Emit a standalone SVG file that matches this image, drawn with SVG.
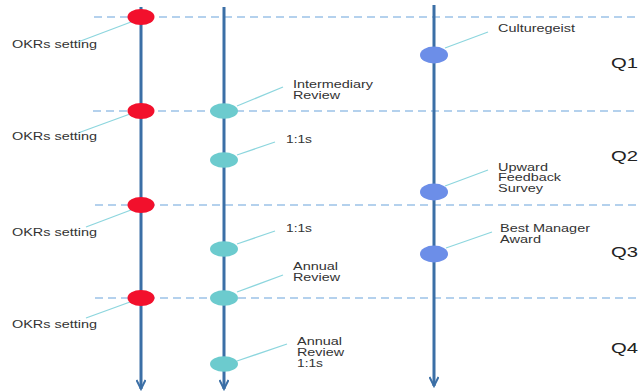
<svg xmlns="http://www.w3.org/2000/svg" width="639" height="392" viewBox="0 0 639 392">
<defs>
<style>
.axis{stroke:#3b6fa6;stroke-width:3;fill:none}
.dash{stroke:#9cc2e8;stroke-width:1.3;stroke-dasharray:8 5;fill:none}
.lead{stroke:#8dd6de;stroke-width:1.3;fill:none}
.red{fill:#f2102c}
.teal{fill:#6ccbce}
.blue{fill:#6c8ee8}
text{font-family:"Liberation Sans",Arial,sans-serif;font-size:11px;fill:#333}
.sm{font-size:10.5px}
.q{font-size:15px;fill:#222}
</style>
<marker id="arr" viewBox="0 0 12 10" refX="10" refY="5" markerWidth="12" markerHeight="10" markerUnits="userSpaceOnUse" orient="auto">
<path d="M1,0.5 L10,5 L1,9.5" fill="none" stroke="#3b6fa6" stroke-width="2"/>
</marker>
</defs>
<rect width="639" height="392" fill="#fff"/>
<g id="grid">
<line class="dash" x1="94" y1="17" x2="639" y2="17"/>
<line class="dash" x1="93" y1="111" x2="639" y2="111"/>
<line class="dash" x1="95" y1="205" x2="639" y2="205"/>
<line class="dash" x1="95" y1="298" x2="639" y2="298"/>
</g>
<g id="connectors">
<line class="axis" x1="141" y1="7" x2="141" y2="389" marker-end="url(#arr)"/>
<line class="axis" x1="224" y1="7" x2="224" y2="389" marker-end="url(#arr)"/>
<line class="axis" x1="434" y1="5" x2="434" y2="386" marker-end="url(#arr)"/>
<line class="lead" x1="78" y1="42" x2="131" y2="22"/>
<line class="lead" x1="78" y1="133" x2="130" y2="114"/>
<line class="lead" x1="86" y1="227" x2="131" y2="210"/>
<line class="lead" x1="86" y1="318" x2="130" y2="302"/>
<line class="lead" x1="237" y1="106" x2="283" y2="87"/>
<line class="lead" x1="237" y1="155" x2="275" y2="142"/>
<line class="lead" x1="237" y1="244" x2="275" y2="231"/>
<line class="lead" x1="237" y1="292" x2="283" y2="275"/>
<line class="lead" x1="237" y1="361" x2="287" y2="344"/>
<line class="lead" x1="445" y1="48" x2="488" y2="32"/>
<line class="lead" x1="445" y1="186" x2="488" y2="170"/>
<line class="lead" x1="446" y1="248" x2="492" y2="232"/>
</g>
<g id="n-okr1"><ellipse class="red" cx="141" cy="17" rx="13.5" ry="8"/><text x="12" y="47.5" textLength="85" lengthAdjust="spacingAndGlyphs">OKRs setting</text></g>
<g id="n-okr2"><ellipse class="red" cx="141" cy="111" rx="13.5" ry="8"/><text x="12" y="140" textLength="85" lengthAdjust="spacingAndGlyphs">OKRs setting</text></g>
<g id="n-okr3"><ellipse class="red" cx="141" cy="205" rx="13.5" ry="8"/><text x="12" y="236" textLength="85" lengthAdjust="spacingAndGlyphs">OKRs setting</text></g>
<g id="n-okr4"><ellipse class="red" cx="141" cy="298" rx="13.5" ry="8"/><text x="12" y="328" textLength="85" lengthAdjust="spacingAndGlyphs">OKRs setting</text></g>
<g id="n-intermediary"><ellipse class="teal" cx="224" cy="111" rx="14" ry="7.8"/><text x="293" y="88" textLength="80" lengthAdjust="spacingAndGlyphs">Intermediary</text><text x="293" y="99" textLength="47" lengthAdjust="spacingAndGlyphs">Review</text></g>
<g id="n-1on1a"><ellipse class="teal" cx="224" cy="160" rx="14" ry="7.8"/><text x="286" y="143" textLength="26" lengthAdjust="spacingAndGlyphs">1:1s</text></g>
<g id="n-1on1b"><ellipse class="teal" cx="224" cy="249" rx="14" ry="7.8"/><text x="286" y="232" textLength="26" lengthAdjust="spacingAndGlyphs">1:1s</text></g>
<g id="n-annual"><ellipse class="teal" cx="224" cy="298" rx="14" ry="7.8"/><text x="293" y="270" textLength="45" lengthAdjust="spacingAndGlyphs">Annual</text><text x="293" y="281" textLength="47" lengthAdjust="spacingAndGlyphs">Review</text></g>
<g id="n-annual2"><ellipse class="teal" cx="224" cy="364" rx="14" ry="7.8"/><text x="297" y="345" textLength="45" lengthAdjust="spacingAndGlyphs">Annual</text><text x="297" y="356" textLength="47" lengthAdjust="spacingAndGlyphs">Review</text><text x="297" y="367" textLength="26" lengthAdjust="spacingAndGlyphs">1:1s</text></g>
<g id="n-culture"><ellipse class="blue" cx="434" cy="55" rx="14" ry="8.5"/><text x="498" y="32" textLength="77" lengthAdjust="spacingAndGlyphs">Culturegeist</text></g>
<g id="n-upward"><ellipse class="blue" cx="434" cy="192" rx="14" ry="8.5"/><text class="sm" x="498" y="170.5" textLength="50" lengthAdjust="spacingAndGlyphs">Upward</text><text class="sm" x="498" y="181" textLength="63" lengthAdjust="spacingAndGlyphs">Feedback</text><text class="sm" x="498" y="191.5" textLength="45" lengthAdjust="spacingAndGlyphs">Survey</text></g>
<g id="n-bestmanager"><ellipse class="blue" cx="434" cy="254" rx="14" ry="8.5"/><text class="sm" x="500" y="231.5" textLength="90" lengthAdjust="spacingAndGlyphs">Best Manager</text><text class="sm" x="500" y="242.5" textLength="41" lengthAdjust="spacingAndGlyphs">Award</text></g>
<g id="quarters">
<text class="q" x="611" y="68" textLength="27" lengthAdjust="spacingAndGlyphs">Q1</text>
<text class="q" x="611" y="161" textLength="27" lengthAdjust="spacingAndGlyphs">Q2</text>
<text class="q" x="611" y="257" textLength="27" lengthAdjust="spacingAndGlyphs">Q3</text>
<text class="q" x="611" y="353" textLength="27" lengthAdjust="spacingAndGlyphs">Q4</text>
</g>
</svg>
